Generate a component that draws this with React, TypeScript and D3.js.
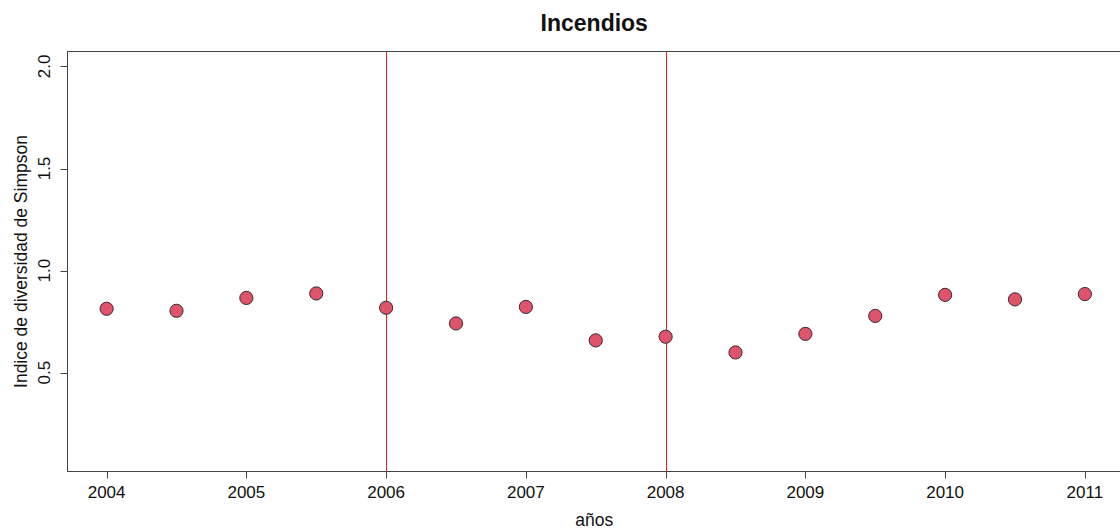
import React from "react";
import * as d3 from "d3";

const years = [2004, 2004.5, 2005, 2005.5, 2006, 2006.5, 2007, 2007.5, 2008, 2008.5, 2009, 2009.5, 2010, 2010.5, 2011];
const simpson = [0.813, 0.803, 0.866, 0.888, 0.818, 0.741, 0.822, 0.658, 0.676, 0.599, 0.69, 0.778, 0.881, 0.859, 0.885];
const xTicks = [2004, 2005, 2006, 2007, 2008, 2009, 2010, 2011];
const yTicks = [0.5, 1.0, 1.5, 2.0];
const refLines = [2006, 2008];
const xLim = [2004, 2011];
const yLim = [0.092, 1.997];

const W = 1120;
const H = 529;
const left = 67.5;
const right = 1124;
const top = 51.5;
const bottom = 471.5;
const font = "'Liberation Sans', Arial, Helvetica, sans-serif";

const px = (v: number) => Math.round(v) + 0.5;

export default function App() {
  const xe = 0.04 * (xLim[1] - xLim[0]);
  const ye = 0.04 * (yLim[1] - yLim[0]);
  const x = d3.scaleLinear().domain([xLim[0] - xe, xLim[1] + xe]).range([left, right]);
  const y = d3.scaleLinear().domain([yLim[0] - ye, yLim[1] + ye]).range([bottom, top]);
  const axisColor = "#444";
  const textColor = "#111";
  const cx = (left + 1121) / 2;
  return (
    <svg
      width={W}
      height={H}
      style={{ position: "fixed", left: 0, top: 0, background: "#fff" }}
      fontFamily={font}
    >
      <rect x={0} y={0} width={W} height={H} fill="#fff" />
      {/* plot box */}
      <rect x={left} y={top} width={right - left} height={bottom - top} fill="none" stroke={axisColor} strokeWidth={1} />
      {/* reference lines */}
      {refLines.map((v) => (
        <line key={v} x1={px(x(v))} x2={px(x(v))} y1={top} y2={bottom} stroke="#e51f1f" strokeWidth={1} />
      ))}
      {/* points */}
      {years.map((yr, i) => (
        <circle key={yr} cx={x(yr)} cy={y(simpson[i])} r={6.6} fill="#DF536B" stroke="#3a2a2e" strokeWidth={1} />
      ))}
      {/* x axis */}
      {xTicks.map((t) => (
        <g key={t}>
          <line x1={px(x(t))} x2={px(x(t))} y1={bottom} y2={bottom + 7} stroke={axisColor} strokeWidth={1} />
          <text x={x(t)} y={498} textAnchor="middle" fontSize={17} fill={textColor}>
            {t}
          </text>
        </g>
      ))}
      {/* y axis */}
      {yTicks.map((t) => (
        <g key={t}>
          <line x1={left - 7} x2={left} y1={px(y(t))} y2={px(y(t))} stroke={axisColor} strokeWidth={1} />
          <text transform={`translate(50,${y(t)}) rotate(-90)`} textAnchor="middle" fontSize={17} fill={textColor}>
            {t.toFixed(1)}
          </text>
        </g>
      ))}
      <text transform={`translate(27,${(top + bottom) / 2}) rotate(-90)`} textAnchor="middle" fontSize={17.5} fill={textColor}>
        Indice de diversidad de Simpson
      </text>
      <text x={cx} y={526} textAnchor="middle" fontSize={17.5} fill={textColor}>
        años
      </text>
      <text x={cx} y={31} textAnchor="middle" fontSize={23} fontWeight="bold" fill={textColor}>
        Incendios
      </text>
    </svg>
  );
}
